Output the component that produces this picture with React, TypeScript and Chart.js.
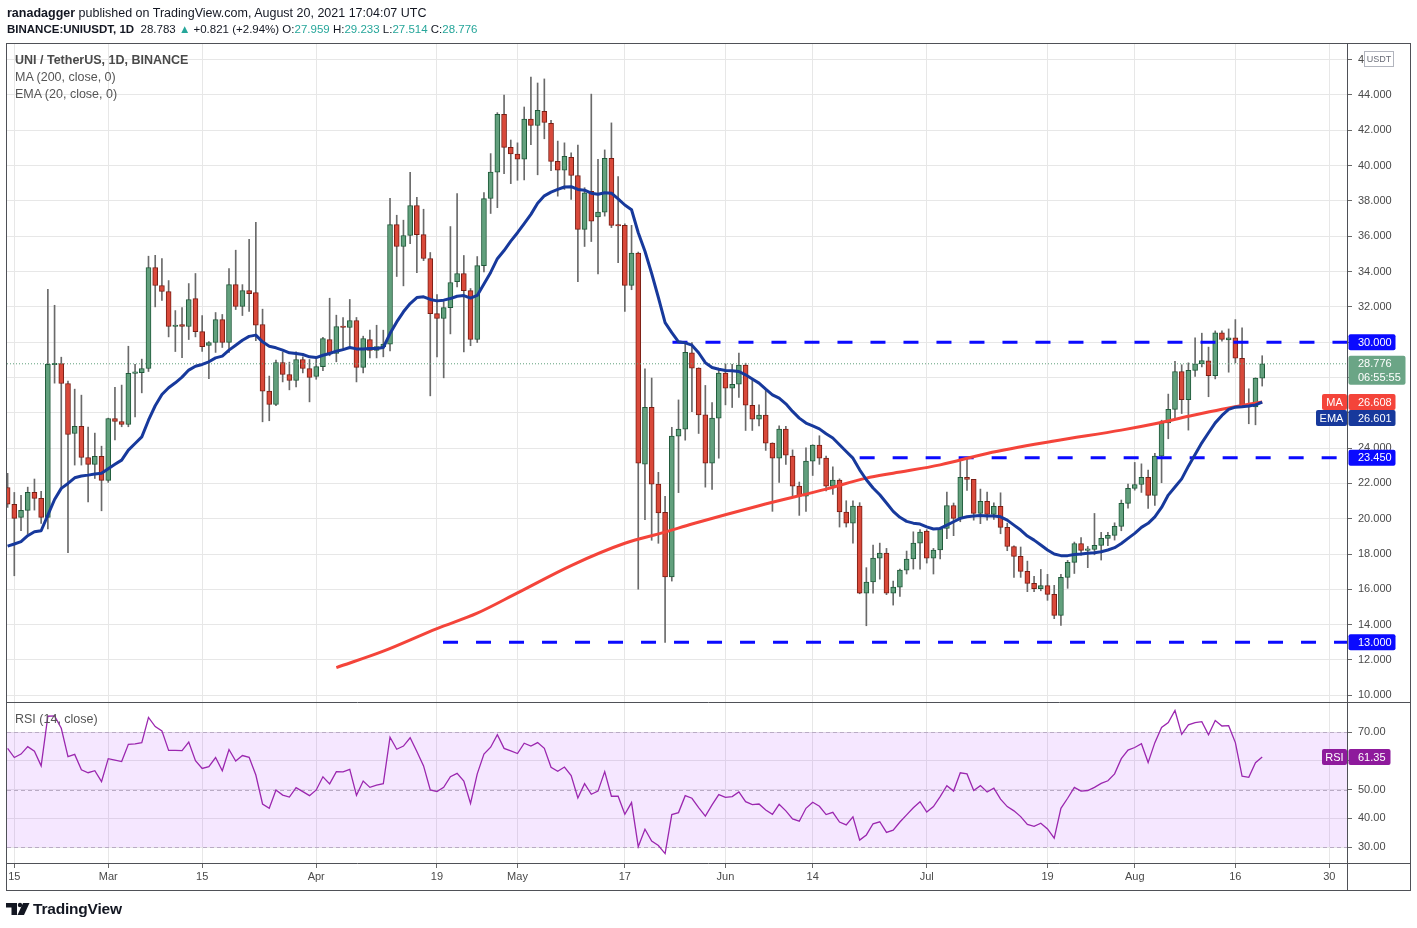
import React, { useEffect, useRef } from "react";
import { Chart, registerables } from "chart.js";

Chart.register(...registerables);

// ---------------- data (day index 0 = 2021-02-14) ----------------
const opens = [21.77,20.81,20.08,20.47,21.49,21.15,20.08,28.72,28.79,27.66,
 24.83,25.23,23.47,23.08,23.53,22.17,25.68,25.51,25.34,28.23,
 28.28,28.51,34.23,33.21,32.87,30.89,31.00,30.89,32.47,30.60,
 29.81,29.98,31.28,29.98,33.26,32.02,32.92,32.81,31.00,27.23,
 26.47,28.85,28.17,27.83,29.02,28.51,28.06,28.62,30.15,29.36,
 30.89,30.83,31.23,28.57,30.15,29.53,29.75,29.89,36.66,35.42,
 36.04,37.74,36.09,34.74,31.62,31.34,31.96,33.43,33.89,32.92,
 30.15,34.34,38.14,39.63,42.90,41.03,40.66,40.36,42.63,42.27,
 43.07,42.40,40.24,39.74,40.47,39.44,36.39,38.54,37.10,37.37,
 40.41,36.62,36.62,33.22,35.05,23.09,26.31,21.96,20.37,16.70,
 24.68,25.08,29.39,28.53,25.88,23.15,25.70,28.25,27.40,27.62,
 28.70,26.43,25.64,25.87,24.28,23.43,25.08,23.55,21.85,21.28,
 23.26,24.17,23.43,21.85,22.19,20.38,19.75,20.72,15.79,16.42,
 17.77,18.06,15.79,16.13,17.09,17.72,18.62,19.30,17.77,18.23,
 19.45,20.75,20.02,22.34,22.23,20.30,20.98,20.25,20.70,19.51,
 18.43,17.87,17.02,16.34,16.04,16.21,15.72,14.53,16.68,17.53,
 18.60,18.21,18.26,18.49,18.89,19.06,19.57,20.87,21.72,21.94,
 22.34,21.32,23.55,25.43,26.19,28.34,26.75,28.40,28.77,28.94,
 28.11,30.53,30.13,30.25,29.09,26.42,26.34,27.959];

const highs = [22.57,21.49,21.32,21.79,22.25,21.55,33.00,32.09,29.15,27.79,
 27.34,27.00,25.19,24.85,24.11,25.70,27.45,27.57,29.77,28.74,
 29.04,34.87,34.92,34.74,33.49,31.79,31.96,33.32,33.89,31.51,
 30.04,31.68,31.57,34.17,35.21,33.26,35.83,36.79,31.87,28.08,
 28.98,29.45,28.87,29.45,29.17,29.02,29.10,30.28,32.49,31.53,
 31.40,32.42,31.40,30.34,30.68,30.96,30.68,38.15,37.19,36.91,
 39.62,38.21,37.53,35.08,32.70,32.30,36.55,38.42,34.91,33.04,
 34.85,38.47,40.68,43.00,43.99,41.45,41.29,43.32,45.01,44.68,
 44.91,42.56,41.39,41.29,40.72,41.16,38.75,44.05,40.36,40.89,
 42.42,39.38,36.70,36.62,35.10,28.49,27.97,22.63,21.27,25.18,
 26.73,29.98,29.98,28.55,27.55,26.58,28.53,28.77,28.75,29.38,
 28.81,27.87,26.45,27.34,24.30,25.26,25.23,23.90,22.08,24.02,
 24.19,24.70,23.55,22.94,22.26,21.02,21.02,20.91,17.23,18.51,
 18.62,18.32,16.47,17.15,18.17,19.26,19.38,19.38,18.32,19.51,
 21.51,20.89,23.25,23.47,22.23,21.68,21.51,20.90,21.47,19.75,
 18.47,18.40,17.60,16.74,17.13,16.85,16.23,16.85,17.64,18.68,
 18.94,18.43,20.30,19.23,19.23,19.77,21.06,21.96,23.19,23.11,
 22.75,23.70,25.58,27.06,28.91,28.72,28.83,30.25,30.51,29.72,
 30.64,30.64,30.75,31.28,30.81,27.36,27.98,29.233];

const lows = [20.64,16.77,19.32,19.13,20.49,19.74,19.42,27.68,21.72,18.08,
 23.04,23.04,20.96,22.28,20.45,22.06,24.47,25.21,25.21,25.77,
 27.13,28.34,32.00,32.36,30.30,29.47,29.13,30.15,30.30,29.47,
 27.94,29.42,29.70,29.42,31.85,31.51,31.74,30.08,25.49,25.55,
 26.40,27.75,27.30,27.47,28.26,26.62,27.90,28.38,29.23,28.89,
 29.60,29.64,27.75,28.26,29.11,29.11,29.17,29.51,33.72,33.19,
 35.58,33.94,34.62,26.96,29.17,27.98,30.47,33.13,29.45,29.80,
 29.98,33.98,37.29,37.62,39.55,38.98,39.17,39.19,41.18,39.48,
 41.52,39.72,38.27,38.65,38.08,33.43,35.42,35.70,33.87,37.14,
 36.49,34.50,31.74,32.97,16.01,19.95,18.78,18.61,13.00,16.47,
 21.48,24.45,26.06,24.83,21.79,21.66,23.43,26.45,26.30,26.87,
 25.00,25.00,25.26,23.87,20.42,22.06,23.08,21.26,20.19,20.42,
 22.45,23.08,21.57,21.38,19.53,19.53,18.62,15.75,13.94,15.79,
 16.58,15.70,15.11,15.60,16.87,17.15,17.15,17.49,16.87,17.72,
 18.87,19.04,19.83,21.60,19.92,19.72,19.92,19.96,19.15,18.19,
 16.68,16.68,15.87,15.87,15.92,15.38,14.34,13.96,16.06,16.90,
 17.94,17.23,17.96,17.66,18.47,18.79,19.32,20.60,21.62,21.49,
 20.58,20.75,22.04,24.53,25.62,25.96,25.02,28.06,28.60,26.91,
 27.92,30.06,28.30,28.83,26.38,25.38,25.32,27.514];

const closes = [20.83,20.02,20.47,21.49,21.15,20.08,28.74,28.76,27.66,24.77,
 25.23,23.47,23.08,23.53,22.17,25.68,25.51,25.34,28.23,28.28,
 28.51,34.23,33.21,32.87,30.89,30.94,30.89,32.42,30.60,29.75,
 29.98,31.28,29.98,33.26,32.02,32.92,32.75,30.96,27.23,26.47,
 28.85,28.17,27.83,29.02,28.51,28.00,28.62,30.21,29.36,30.89,
 30.83,31.23,28.57,30.21,29.53,29.75,29.89,36.66,35.42,36.04,
 37.74,36.09,34.74,31.62,31.34,31.96,33.38,33.89,32.92,30.15,
 34.34,38.13,39.63,42.90,41.03,40.66,40.36,42.63,42.27,43.13,
 42.44,40.24,39.74,40.53,39.44,36.39,38.46,36.85,37.37,40.41,
 36.62,36.58,33.22,35.05,23.15,26.31,21.96,20.33,16.70,24.68,
 25.08,29.43,28.53,25.88,23.15,25.70,28.25,27.40,27.62,28.70,
 26.43,25.64,25.87,24.28,23.43,25.08,23.60,21.85,21.28,23.26,
 24.17,23.43,21.85,22.19,20.38,19.75,20.72,15.79,16.42,17.77,
 18.06,15.79,16.13,17.09,17.72,18.62,19.25,17.77,18.23,19.45,
 20.75,20.02,22.34,22.23,20.30,20.98,20.25,20.70,19.51,18.43,
 17.87,17.02,16.34,16.04,16.21,15.72,14.53,16.68,17.53,18.60,
 18.21,18.26,18.49,18.89,19.06,19.57,20.87,21.72,21.94,22.34,
 21.32,23.55,25.43,26.19,28.34,26.75,28.40,28.77,28.96,28.11,
 30.53,30.15,30.25,29.09,26.42,26.34,27.96,28.776];

const ema20 = [18.45,18.57,18.70,19.04,19.26,19.32,20.21,21.09,21.72,22.00,
 22.32,22.42,22.47,22.53,22.58,22.83,23.08,23.32,23.89,24.26,
 24.64,25.58,26.40,27.04,27.42,27.70,28.02,28.42,28.64,28.74,
 28.89,29.11,29.21,29.55,29.83,30.11,30.33,30.40,30.02,29.77,
 29.68,29.55,29.40,29.36,29.30,29.17,29.13,29.26,29.36,29.49,
 29.58,29.70,29.62,29.62,29.64,29.64,29.70,30.49,31.15,31.72,
 32.19,32.53,32.57,32.42,32.34,32.38,32.47,32.60,32.64,32.50,
 32.65,33.30,33.95,34.73,35.19,35.72,36.20,36.72,37.24,37.87,
 38.29,38.50,38.65,38.79,38.81,38.65,38.61,38.44,38.38,38.46,
 38.44,38.12,37.77,37.50,36.20,35.15,33.89,32.53,31.11,30.54,
 30.02,29.96,29.83,29.40,28.84,28.57,28.47,28.40,28.38,28.34,
 28.15,27.91,27.68,27.34,27.02,26.83,26.51,26.08,25.70,25.42,
 25.26,25.09,24.81,24.57,24.19,23.81,23.43,22.77,22.21,21.74,
 21.36,20.89,20.42,20.08,19.85,19.75,19.70,19.54,19.42,19.45,
 19.64,19.83,20.02,20.11,20.15,20.19,20.15,20.15,20.11,19.92,
 19.64,19.36,19.02,18.79,18.51,18.23,18.00,17.91,17.91,17.98,
 18.00,18.04,18.08,18.13,18.23,18.36,18.60,18.89,19.17,19.51,
 19.74,20.11,20.64,21.34,21.80,22.26,22.98,23.64,24.30,24.87,
 25.43,25.85,26.19,26.32,26.34,26.38,26.45,26.601];

const ma200Days = [49, 56, 64, 70, 76, 84, 92, 98, 102, 112, 122, 128, 132, 139, 146, 156, 166, 171, 176, 181, 185, 187];
const ma200Values = [11.57, 12.50, 13.78, 14.65, 15.80, 17.35, 18.61, 19.24, 19.70, 20.74, 21.68, 22.30, 22.58, 23.05, 23.70, 24.40, 25.02, 25.38, 25.80, 26.20, 26.48, 26.608];

const rsi14 = [64.4,61.2,62.4,65.0,63.4,58.3,75.6,75.7,71.4,61.5,
 62.3,56.9,55.9,56.6,52.8,60.8,60.3,59.8,65.8,66.0,
 66.4,75.2,72.0,70.5,63.7,63.7,63.6,66.6,60.1,57.4,
 58.0,61.2,56.6,64.0,60.0,61.9,61.3,55.1,45.0,43.5,
 49.9,48.1,47.4,50.7,49.3,47.9,49.9,54.5,52.0,56.3,
 56.2,57.1,48.0,53.0,50.8,51.6,52.1,68.3,64.1,65.2,
 68.1,63.3,58.3,49.9,49.3,50.8,54.5,55.7,53.0,45.2,
 55.5,62.4,64.8,69.2,64.4,63.5,62.6,66.2,65.2,66.4,
 64.4,57.8,56.4,57.9,54.9,47.1,52.1,48.4,49.5,56.3,
 47.7,47.7,41.4,45.5,30.1,36.2,32.1,30.5,27.7,41.3,
 42.0,47.9,47.0,43.7,40.8,44.7,48.3,47.3,47.6,49.2,
 45.8,44.8,45.0,42.9,41.4,44.9,42.6,39.8,39.0,43.5,
 45.6,44.2,41.3,42.1,38.7,37.7,40.5,32.4,34.2,38.1,
 38.8,35.1,35.9,38.7,41.2,43.7,45.8,42.2,44.1,47.6,
 51.4,49.5,55.9,55.5,49.7,51.4,49.2,50.5,46.7,44.1,
 42.6,40.6,37.9,37.2,38.3,36.3,33.1,43.5,47.0,50.8,
 49.5,49.7,50.8,52.2,53.1,55.5,60.8,63.8,64.7,66.0,
 59.5,66.4,71.7,73.4,77.6,69.3,72.6,73.4,73.7,69.1,
 74.1,72.2,72.3,66.4,54.7,54.3,59.4,61.35];

const tickDays = [1, 15, 29, 46, 64, 76, 92, 107, 120, 137, 155, 168, 183, 197];
const tickLabels = ["15", "Mar", "15", "Apr", "19", "May", "17", "Jun", "14", "Jul", "19", "Aug", "16", "30"];
const priceTicks = [10, 12, 14, 16, 18, 20, 22, 24, 26, 28, 30, 32, 34, 36, 38, 40, 42, 44, 46];
const rsiTicks = [30, 40, 50, 60, 70];
const rsiGuides = [70, 50, 30];

const levels = [30, 23.45, 13];
const levelStartDays = [99.1, 127.0, 64.9];
const levelLabels = ["30.000", "23.450", "13.000"];

const lastPrice = 28.776;
const lastPriceLabel = "28.776";
const countdownLabel = "06:55:55";
const maLast = 26.608;
const maLabel = "26.608";
const emaLabel = "26.601";
const rsiLast = 61.35;
const rsiLabel = "61.35";

// ---------------- style ----------------
const X_MIN = -0.09;
const X_MAX = 199.64;
const UP = "#62a07d";
const UP_B = "#1f5a3a";
const DOWN = "#d9493a";
const DOWN_B = "#7a1e14";
const WICK = "#6a6a6a";
const MA_C = "#f4443a";
const EMA_C = "#17399c";
const LEVEL_C = "#0a0aff";
const RSI_C = "#9b27af";
const RSI_TAG = "#8e1a9c";
const GRID = "#e7e7e7";
const FRAME = "#4f5157";
const TXT = "#4a4a4a";
const FONT = "'Liberation Sans', Arial, sans-serif";

function box(ctx: CanvasRenderingContext2D, x: number, y: number, w: number, h: number, color: string) {
  ctx.fillStyle = color;
  ctx.beginPath();
  if ((ctx as any).roundRect) (ctx as any).roundRect(x, y, w, h, 2);
  else ctx.rect(x, y, w, h);
  ctx.fill();
}

const overlayPlugin = {
  id: "tvOverlay",
  beforeDatasetsDraw(chart: any) {
    const { ctx, chartArea } = chart;
    const yR = chart.scales.yR;
    const t = yR.getPixelForValue(70);
    const b = yR.getPixelForValue(30);
    ctx.save();
    ctx.fillStyle = "rgba(153, 21, 255, 0.1)";
    ctx.fillRect(chartArea.left, t, chartArea.right - chartArea.left, b - t);
    ctx.strokeStyle = "#b9abc4";
    ctx.lineWidth = 1;
    ctx.setLineDash([4, 3]);
    for (const v of rsiGuides) {
      const y = Math.round(yR.getPixelForValue(v)) + 0.5;
      ctx.beginPath();
      ctx.moveTo(chartArea.left, y);
      ctx.lineTo(chartArea.right, y);
      ctx.stroke();
    }
    ctx.restore();
  },
  afterDraw(chart: any) {
    const { ctx, chartArea } = chart;
    const y = chart.scales.y;
    const yR = chart.scales.yR;
    ctx.save();
    // frame
    ctx.strokeStyle = FRAME;
    ctx.lineWidth = 1;
    ctx.setLineDash([]);
    const L = 6.5, R = 1410.5, T = 43.5, B = 890.5;
    ctx.strokeRect(L, T, R - L, B - T);
    const sep = Math.round(y.bottom) + 0.5;
    const bot = Math.round(chartArea.bottom) + 0.5;
    const ax = Math.round(chartArea.right) + 0.5;
    ctx.beginPath();
    ctx.moveTo(L, sep); ctx.lineTo(R, sep);
    ctx.moveTo(L, bot); ctx.lineTo(R, bot);
    ctx.moveTo(ax, T); ctx.lineTo(ax, B);
    ctx.stroke();

    ctx.font = `11px ${FONT}`;
    ctx.textBaseline = "middle";
    ctx.textAlign = "left";
    const vx = ax + 1;
    const tx = 1358;

    // horizontal level tags
    levels.forEach((lv, k) => {
      const py = y.getPixelForValue(lv);
      box(ctx, vx, py - 8, 47, 16, LEVEL_C);
      ctx.fillStyle = "#fff";
      ctx.fillText(levelLabels[k], tx, py + 0.5);
    });

    // last price tag
    const lp = y.getPixelForValue(lastPrice);
    box(ctx, vx, lp - 8, 57, 29, "#6ba586");
    ctx.fillStyle = "#fff";
    ctx.fillText(lastPriceLabel, tx, lp + 0.5);
    ctx.fillText(countdownLabel, tx, lp + 14);

    // MA tag
    const my = y.getPixelForValue(maLast);
    box(ctx, 1322, my - 8, 25, 16, MA_C);
    box(ctx, vx, my - 8, 47, 16, MA_C);
    ctx.fillStyle = "#fff";
    ctx.textAlign = "center";
    ctx.fillText("MA", 1334.5, my + 0.5);
    ctx.textAlign = "left";
    ctx.fillText(maLabel, tx, my + 0.5);

    // EMA tag (pushed below the MA tag)
    const ey = my + 16;
    box(ctx, 1316, ey - 8, 31, 16, EMA_C);
    box(ctx, vx, ey - 8, 47, 16, EMA_C);
    ctx.fillStyle = "#fff";
    ctx.textAlign = "center";
    ctx.fillText("EMA", 1331.5, ey + 0.5);
    ctx.textAlign = "left";
    ctx.fillText(emaLabel, tx, ey + 0.5);

    // RSI tag
    const ry = yR.getPixelForValue(rsiLast);
    box(ctx, 1322, ry - 8, 25, 16, RSI_TAG);
    box(ctx, vx, ry - 8, 42, 16, RSI_TAG);
    ctx.fillStyle = "#fff";
    ctx.textAlign = "center";
    ctx.fillText("RSI", 1334.5, ry + 0.5);
    ctx.textAlign = "left";
    ctx.fillText(rsiLabel, tx, ry + 0.5);

    // currency box at top of the price scale
    ctx.fillStyle = "#fff";
    ctx.fillRect(1364, 51, 30, 16);
    ctx.strokeStyle = "#b2b5be";
    ctx.strokeRect(1364.5, 51.5, 29, 15);
    ctx.fillStyle = "#6a6d78";
    ctx.font = `9px ${FONT}`;
    ctx.textAlign = "center";
    ctx.fillText("USDT", 1379, 59.5);
    ctx.restore();
  },
};

export default function App() {
  const ref = useRef<HTMLCanvasElement>(null);

  useEffect(() => {
    const canvas = ref.current;
    if (!canvas) return;
    const days = closes.map((_, i) => i);
    const isUp = days.map((i) => closes[i] >= opens[i]);

    const levelSets = levels.map((lv, k) => ({
      type: "line" as const,
      data: [{ x: levelStartDays[k], y: lv }, { x: X_MAX, y: lv }],
      borderColor: LEVEL_C,
      borderWidth: 3,
      borderDash: [15, 18],
      borderCapStyle: "butt" as const,
      pointRadius: 0,
      yAxisID: "y",
      order: 4,
    }));

    const chart = new Chart(canvas, {
      type: "bar",
      data: {
        datasets: [
          {
            type: "bar",
            data: days.map((i) => ({ x: i, y: [lows[i], highs[i]] })) as any,
            backgroundColor: WICK,
            borderWidth: 0,
            barThickness: 1,
            grouped: false,
            yAxisID: "y",
            order: 10,
          } as any,
          {
            type: "bar",
            data: days.map((i) => ({ x: i, y: [opens[i], closes[i]] })) as any,
            backgroundColor: days.map((i) => (isUp[i] ? UP : DOWN)),
            borderColor: days.map((i) => (isUp[i] ? UP_B : DOWN_B)),
            borderWidth: 1,
            borderSkipped: false,
            barThickness: 5,
            minBarLength: 1.5,
            grouped: false,
            yAxisID: "y",
            order: 9,
          } as any,
          ...levelSets,
          {
            type: "line",
            data: [{ x: X_MIN, y: lastPrice }, { x: X_MAX, y: lastPrice }],
            borderColor: "#5f9f7b",
            borderWidth: 1,
            borderDash: [1, 2],
            pointRadius: 0,
            yAxisID: "y",
            order: 5,
          } as any,
          {
            type: "line",
            data: ma200Days.map((d, k) => ({ x: d, y: ma200Values[k] })),
            borderColor: MA_C,
            borderWidth: 3,
            cubicInterpolationMode: "monotone",
            pointRadius: 0,
            yAxisID: "y",
            order: 2,
          } as any,
          {
            type: "line",
            data: days.map((i) => ({ x: i, y: ema20[i] })),
            borderColor: EMA_C,
            borderWidth: 3,
            borderJoinStyle: "round",
            pointRadius: 0,
            yAxisID: "y",
            order: 1,
          } as any,
          {
            type: "line",
            data: days.map((i) => ({ x: i, y: rsi14[i] })),
            borderColor: RSI_C,
            borderWidth: 1.3,
            pointRadius: 0,
            yAxisID: "yR",
            order: 1,
          } as any,
        ],
      },
      options: {
        animation: false,
        responsive: false,
        events: [],
        layout: { padding: { left: 7, right: 7, top: 43, bottom: 37 } },
        plugins: { legend: { display: false }, tooltip: { enabled: false } },
        scales: {
          x: {
            type: "linear",
            position: "bottom",
            min: X_MIN,
            max: X_MAX,
            offset: false,
            afterBuildTicks: (s: any) => {
              s.ticks = tickDays.map((v) => ({ value: v }));
            },
            afterFit: (s: any) => {
              s.height = 28;
              s.paddingLeft = 0;
              s.paddingRight = 0;
            },
            ticks: {
              autoSkip: false,
              maxRotation: 0,
              padding: 2,
              color: TXT,
              font: { family: FONT, size: 11 },
              callback: (v: any) => {
                const k = tickDays.indexOf(Number(v));
                return k >= 0 ? tickLabels[k] : "";
              },
            },
            grid: { color: GRID, offset: false, tickColor: "#6a6a6a", tickLength: 5 },
            border: { display: false },
          },
          y: {
            type: "linear",
            position: "right",
            stack: "panes",
            stackWeight: 659,
            weight: 0,
            min: 9.621,
            max: 46.945,
            afterBuildTicks: (s: any) => {
              s.ticks = priceTicks.map((v) => ({ value: v }));
            },
            afterFit: (s: any) => {
              s.width = 63;
              s.paddingTop = 0;
              s.paddingBottom = 0;
            },
            ticks: {
              autoSkip: false,
              padding: 6,
              color: TXT,
              font: { family: FONT, size: 11 },
              callback: (v: any) => Number(v).toFixed(3),
            },
            grid: { color: GRID, tickColor: "#6a6a6a", tickLength: 5 },
            border: { display: false },
          },
          yR: {
            type: "linear",
            position: "right",
            stack: "panes",
            stackWeight: 161,
            weight: 1,
            min: 24.42,
            max: 80.57,
            afterBuildTicks: (s: any) => {
              s.ticks = rsiTicks.map((v) => ({ value: v }));
            },
            afterFit: (s: any) => {
              s.width = 63;
              s.paddingTop = 0;
              s.paddingBottom = 0;
            },
            ticks: {
              autoSkip: false,
              padding: 6,
              color: TXT,
              font: { family: FONT, size: 11 },
              callback: (v: any) => Number(v).toFixed(2),
            },
            grid: { color: GRID, tickColor: "#6a6a6a", tickLength: 5 },
            border: { display: false },
          },
        } as any,
      },
      plugins: [overlayPlugin],
    } as any);

    return () => chart.destroy();
  }, []);

  const abs = (left: number, top: number, extra: React.CSSProperties = {}): React.CSSProperties => ({
    position: "absolute",
    left,
    top,
    whiteSpace: "nowrap",
    fontFamily: FONT,
    ...extra,
  });
  const teal = { color: "#26a69a" };

  return (
    <div style={{ position: "absolute", left: 0, top: 0, width: 1417, height: 928, background: "#ffffff", overflow: "hidden" }}>
      <canvas ref={ref} width={1417} height={928} style={{ position: "absolute", left: 0, top: 0, width: 1417, height: 928 }} />
      <div style={abs(7, 5, { fontSize: 12.5, lineHeight: "16px", color: "#131722" })}>
        <b>ranadagger</b> published on TradingView.com, August 20, 2021 17:04:07 UTC
      </div>
      <div style={abs(7, 21, { fontSize: 11.5, lineHeight: "16px", color: "#131722" })}>
        <b>BINANCE:UNIUSDT, 1D</b>&nbsp; 28.783 <span style={teal}>▲</span> +0.821 (+2.94%) O:
        <span style={teal}>27.959</span> H:<span style={teal}>29.233</span> L:
        <span style={teal}>27.514</span> C:<span style={teal}>28.776</span>
      </div>
      <div style={abs(15, 52, { fontSize: 12.5, lineHeight: "17px", color: "#4a4a4a", fontWeight: "bold" })}>
        UNI / TetherUS, 1D, BINANCE
      </div>
      <div style={abs(15, 69, { fontSize: 12.5, lineHeight: "17px", color: "#555" })}>MA (200, close, 0)</div>
      <div style={abs(15, 86, { fontSize: 12.5, lineHeight: "17px", color: "#555" })}>EMA (20, close, 0)</div>
      <div style={abs(15, 711, { fontSize: 12.5, lineHeight: "17px", color: "#555" })}>RSI (14, close)</div>
      <svg style={{ position: "absolute", left: 0, top: 895 }} width={32} height={28}>
        <rect x={6} y={8} width={11} height={4.5} fill="#131722" />
        <rect x={11.5} y={8} width={5.5} height={12} fill="#131722" />
        <circle cx={20} cy={10} r={2.2} fill="#131722" />
        <polygon points="23,8 29.5,8 24,20 17.5,20" fill="#131722" />
      </svg>
      <div style={abs(33, 899, { fontSize: 15.5, lineHeight: "20px", color: "#131722", fontWeight: "bold", letterSpacing: "-0.2px" })}>
        TradingView
      </div>
    </div>
  );
}
